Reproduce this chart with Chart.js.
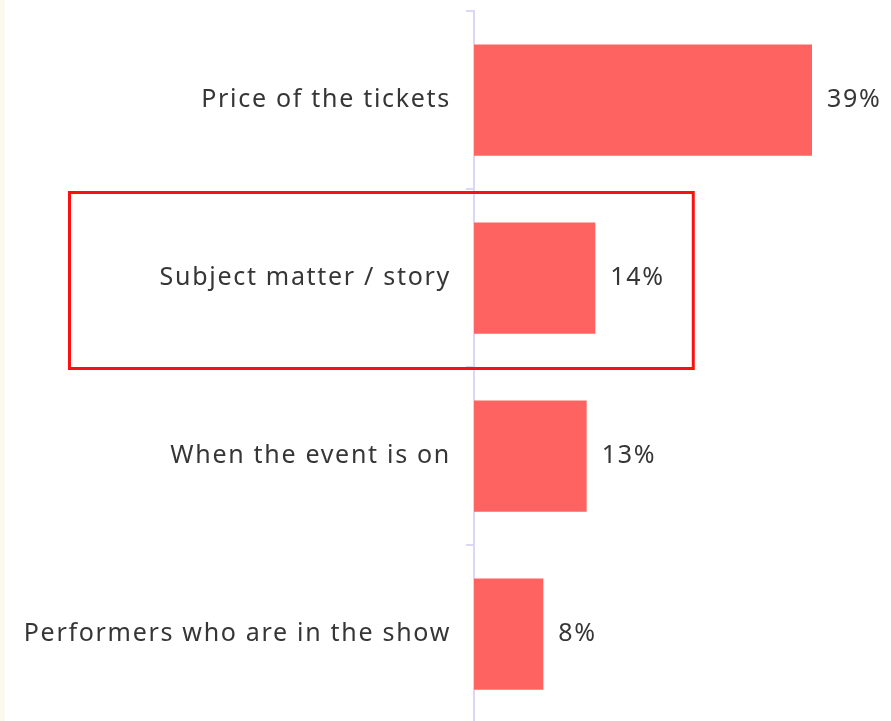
<!DOCTYPE html>
<html>
<head>
<meta charset="utf-8">
<script src="https://cdn.jsdelivr.net/npm/chart.js@4.4.1/dist/chart.umd.min.js"></script>
<style>
  html, body { margin: 0; padding: 0; background: #fff; overflow: hidden; }
  #wrap { position: relative; width: 891px; height: 724px; }
  #edge { position: absolute; left: 0; top: 0; width: 5px; height: 100%; background: #fbf9ed; z-index: 2; }
</style>
</head>
<body>
<div id="wrap">
  <div id="edge"></div>
  <canvas id="factorsChart"></canvas>
</div>
<script>
const factors = [
  'Price of the tickets',
  'Subject matter / story',
  'When the event is on',
  'Performers who are in the show'
];
const shares = [39, 14, 13, 8];
const highlighted = 1;

const textColor = '#363636';
const barColor = '#ff6361';
const axisColor = '#ddd6f6';
const spacing = '1.7px';
const fontSize = 25;

// wider tracking for all text drawn on the canvas
const tracking = {
  id: 'tracking',
  beforeDraw(chart) { chart.ctx.letterSpacing = spacing; }
};

// percent labels just past the end of each bar
const valueLabels = {
  id: 'valueLabels',
  afterDatasetsDraw(chart) {
    const { ctx } = chart;
    const meta = chart.getDatasetMeta(0);
    ctx.save();
    ctx.letterSpacing = spacing;
    ctx.font = `${fontSize}px "Noto Sans"`;
    ctx.fillStyle = textColor;
    ctx.textAlign = 'left';
    ctx.textBaseline = 'middle';
    meta.data.forEach((bar, i) => {
      ctx.fillText(`${shares[i]}%`, bar.x + 15, bar.y);
    });
    ctx.restore();
  }
};

// outline around the highlighted row
const highlightBox = {
  id: 'highlightBox',
  afterDraw(chart) {
    const { ctx, chartArea } = chart;
    const y = chart.scales.y;
    const x = chart.scales.x;
    const half = (y.getPixelForValue(1) - y.getPixelForValue(0)) / 2;
    const mid = y.getPixelForValue(highlighted);
    const top = mid - half + 3.5;
    const bottom = mid + half + 1.5;
    const left = chartArea.left - 404.5;
    const right = x.getPixelForValue(25.3);
    ctx.save();
    ctx.strokeStyle = '#ff1010';
    ctx.lineWidth = 3;
    ctx.strokeRect(left, top, right - left, bottom - top);
    ctx.restore();
  }
};

new Chart(document.getElementById('factorsChart'), {
  type: 'bar',
  data: {
    labels: factors,
    datasets: [{
      data: shares,
      backgroundColor: barColor,
      borderWidth: 0,
      barPercentage: 0.625,
      categoryPercentage: 1
    }]
  },
  options: {
    indexAxis: 'y',
    responsive: true,
    maintainAspectRatio: false,
    animation: false,
    layout: { padding: { top: 11, right: 1, bottom: 1, left: 0 } },
    plugins: {
      legend: { display: false },
      tooltip: { enabled: false }
    },
    scales: {
      x: {
        display: false,
        min: 0,
        max: 48
      },
      y: {
        z: 1,
        afterFit(scale) {
          scale.width = 474;
          scale.paddingTop = 0;
          scale.paddingBottom = 0;
        },
        grid: {
          offset: true,
          drawOnChartArea: false,
          tickLength: 8,
          lineWidth: 2,
          color: axisColor
        },
        border: { color: axisColor, width: 2 },
        ticks: {
          padding: 15,
          color: textColor,
          font: { family: '"Noto Sans"', size: fontSize }
        }
      }
    }
  },
  plugins: [tracking, valueLabels, highlightBox]
});
</script>
</body>
</html>
